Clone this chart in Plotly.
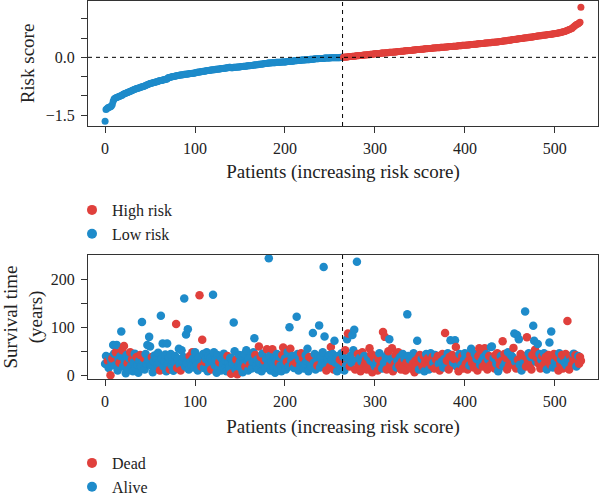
import plotly.graph_objects as go

# ---------------- data ----------------
risk_score = [
    -1.66, -1.35, -1.33, -1.31, -1.30, -1.29, -1.28, -1.26, -1.22, -1.14,
    -1.08, -1.06, -1.05, -1.04, -1.03, -1.02, -1.01, -1.00, -0.99, -0.98,
    -0.96, -0.95, -0.94, -0.93, -0.92, -0.91, -0.90, -0.89, -0.88, -0.87,
    -0.86, -0.85, -0.84, -0.83, -0.82, -0.81, -0.80, -0.80, -0.79, -0.78,
    -0.77, -0.76, -0.76, -0.75, -0.74, -0.73, -0.72, -0.71, -0.70, -0.69,
    -0.68, -0.67, -0.67, -0.66, -0.65, -0.65, -0.64, -0.63, -0.63, -0.62,
    -0.61, -0.61, -0.60, -0.60, -0.59, -0.58, -0.58, -0.57, -0.57, -0.56,
    -0.53, -0.52, -0.52, -0.51, -0.51, -0.50, -0.50, -0.49, -0.49, -0.48,
    -0.48, -0.47, -0.47, -0.46, -0.46, -0.46, -0.45, -0.45, -0.44, -0.44,
    -0.44, -0.43, -0.43, -0.43, -0.42, -0.42, -0.42, -0.41, -0.41, -0.41,
    -0.40, -0.40, -0.39, -0.39, -0.38, -0.38, -0.38, -0.37, -0.37, -0.36,
    -0.36, -0.36, -0.35, -0.35, -0.34, -0.34, -0.34, -0.33, -0.33, -0.33,
    -0.32, -0.32, -0.32, -0.31, -0.31, -0.31, -0.30, -0.30, -0.30, -0.29,
    -0.29, -0.29, -0.28, -0.28, -0.28, -0.27, -0.27, -0.27, -0.26, -0.26,
    -0.27, -0.27, -0.27, -0.26, -0.26, -0.26, -0.26, -0.25, -0.25, -0.25,
    -0.25, -0.24, -0.24, -0.24, -0.23, -0.23, -0.23, -0.23, -0.22, -0.22,
    -0.22, -0.22, -0.21, -0.21, -0.21, -0.20, -0.20, -0.20, -0.19, -0.19,
    -0.19, -0.18, -0.18, -0.18, -0.17, -0.17, -0.17, -0.16, -0.16, -0.16,
    -0.16, -0.15, -0.15, -0.15, -0.15, -0.14, -0.14, -0.14, -0.14, -0.14,
    -0.13, -0.13, -0.13, -0.13, -0.13, -0.13, -0.12, -0.12, -0.12, -0.12,
    -0.12, -0.12, -0.11, -0.11, -0.11, -0.11, -0.10, -0.10, -0.10, -0.10,
    -0.09, -0.09, -0.09, -0.09, -0.08, -0.08, -0.08, -0.08, -0.07, -0.07,
    -0.07, -0.07, -0.07, -0.06, -0.06, -0.06, -0.06, -0.06, -0.05, -0.05,
    -0.05, -0.05, -0.05, -0.04, -0.04, -0.04, -0.04, -0.04, -0.03, -0.03,
    -0.03, -0.03, -0.03, -0.03, -0.02, -0.02, -0.02, -0.02, -0.02, -0.02,
    -0.02, -0.01, -0.01, -0.01, -0.01, -0.01, -0.01, -0.01, -0.01, -0.01,
    -0.01, -0.01, -0.00, -0.00, -0.00, 0.00, 0.00, 0.01, 0.01, 0.01,
    0.01, 0.02, 0.02, 0.02, 0.02, 0.03, 0.03, 0.03, 0.03, 0.04,
    0.04, 0.04, 0.04, 0.05, 0.05, 0.05, 0.05, 0.06, 0.06, 0.06,
    0.06, 0.07, 0.07, 0.07, 0.07, 0.08, 0.08, 0.08, 0.08, 0.09,
    0.09, 0.09, 0.09, 0.10, 0.10, 0.10, 0.10, 0.11, 0.11, 0.11,
    0.11, 0.11, 0.12, 0.12, 0.12, 0.12, 0.13, 0.13, 0.13, 0.13,
    0.13, 0.14, 0.14, 0.14, 0.14, 0.15, 0.15, 0.15, 0.15, 0.16,
    0.16, 0.16, 0.16, 0.17, 0.17, 0.17, 0.17, 0.18, 0.18, 0.18,
    0.18, 0.18, 0.19, 0.19, 0.19, 0.19, 0.20, 0.20, 0.20, 0.20,
    0.20, 0.21, 0.21, 0.21, 0.21, 0.22, 0.22, 0.22, 0.22, 0.23,
    0.23, 0.23, 0.23, 0.23, 0.24, 0.24, 0.24, 0.24, 0.25, 0.25,
    0.25, 0.25, 0.25, 0.26, 0.26, 0.26, 0.26, 0.26, 0.27, 0.27,
    0.27, 0.27, 0.28, 0.28, 0.28, 0.28, 0.28, 0.29, 0.29, 0.29,
    0.29, 0.29, 0.30, 0.30, 0.30, 0.30, 0.30, 0.31, 0.31, 0.31,
    0.31, 0.31, 0.32, 0.32, 0.32, 0.32, 0.33, 0.33, 0.33, 0.33,
    0.34, 0.34, 0.34, 0.34, 0.35, 0.35, 0.35, 0.35, 0.36, 0.36,
    0.36, 0.36, 0.37, 0.37, 0.37, 0.37, 0.38, 0.38, 0.38, 0.38,
    0.39, 0.39, 0.39, 0.39, 0.40, 0.40, 0.40, 0.40, 0.41, 0.41,
    0.41, 0.41, 0.42, 0.42, 0.42, 0.43, 0.43, 0.43, 0.44, 0.44,
    0.44, 0.45, 0.45, 0.46, 0.46, 0.46, 0.47, 0.47, 0.47, 0.48,
    0.48, 0.48, 0.49, 0.49, 0.49, 0.50, 0.50, 0.50, 0.51, 0.51,
    0.51, 0.52, 0.52, 0.52, 0.53, 0.53, 0.53, 0.54, 0.54, 0.54,
    0.55, 0.55, 0.55, 0.56, 0.56, 0.56, 0.57, 0.57, 0.57, 0.58,
    0.58, 0.58, 0.59, 0.59, 0.59, 0.60, 0.60, 0.60, 0.61, 0.61,
    0.61, 0.62, 0.62, 0.63, 0.63, 0.64, 0.64, 0.65, 0.65, 0.66,
    0.66, 0.67, 0.68, 0.69, 0.70, 0.71, 0.72, 0.73, 0.74, 0.75,
    0.77, 0.79, 0.81, 0.83, 0.85, 0.86, 0.87, 0.89, 0.91, 1.30,
]

survival_time = [
    24, 40, 22, 30, 15, 38, 0, 28, 35, 63,
    45, 20, 48, 63, 10, 33, 26, 40, 91, 52,
    18, 61, 30, 4, 42, 25, 12, 35, 48, 20,
    33, 8, 27, 45, 15, 38, 22, 5, 30, 42,
    18, 111, 28, 36, 12, 44, 24, 63, 32, 80,
    60, 20, 38, 6, 29, 41, 14, 33, 22, 47,
    26, 10, 124, 35, 66, 18, 30, 43, 8, 66,
    25, 37, 12, 44, 20, 30, 9, 28, 40, 107,
    15, 34, 55, 22, 10, 52, 30, 38, 160, 18,
    85, 25, 96, 12, 40, 28, 20, 48, 35, 16,
    48, 30, 22, 10, 37, 167, 26, 18, 74, 44,
    15, 28, 34, 48, 8, 40, 23, 36, 12, 30,
    168, 48, 20, 32, 5, 42, 18, 27, 38, 10,
    34, 22, 45, 14, 30, 8, 40, 26, 16, 36,
    3, 35, 24, 110, 50, 12, 32, 2, 20, 42,
    28, 15, 38, 6, 25, 44, 18, 52, 30, 10,
    35, 22, 40, 14, 28, 48, 77, 42, 20, 32,
    12, 60, 26, 38, 8, 45, 20, 30, 15, 34,
    54, 22, 244, 40, 10, 28, 54, 18, 36, 5,
    30, 44, 14, 26, 38, 20, 8, 42, 58, 24,
    35, 12, 28, 48, 18, 100, 55, 30, 40, 22,
    15, 38, 26, 122, 44, 10, 32, 20, 46, 28,
    36, 14, 24, 42, 30, 55, 8, 38, 22, 18,
    34, 88, 26, 44, 12, 30, 20, 40, 104, 16,
    38, 25, 48, 226, 81, 22, 10, 34, 28, 42,
    18, 59, 30, 44, 12, 72, 26, 36, 8, 40,
    22, 32, 14, 46, 28, 38, 10, 52, 20, 75,
    87, 34, 18, 40, 26, 84, 52, 95, 12, 30,
    237, 44, 20, 36, 8, 28, 48, 16, 40, 24,
    32, 12, 38, 22, 56, 30, 44, 6, 26, 36,
    18, 40, 28, 10, 34, 46, 20, 30, 14, 90,
    26, 80, 38, 12, 44, 50, 75, 22, 32, 56,
    8, 36, 24, 42, 16, 30, 48, 20, 38, 12,
    28, 44, 18, 34, 10, 26, 127, 40, 22, 32,
    14, 38, 24, 46, 6, 30, 20, 72, 36, 12,
    42, 26, 34, 18, 40, 8, 28, 44, 22, 36,
    12, 30, 46, 20, 38, 26, 14, 42, 32, 18,
    40, 24, 10, 36, 28, 44, 16, 34, 88, 22,
    30, 46, 12, 38, 73, 20, 42, 26, 34, 73,
    59, 18, 36, 8, 44, 28, 22, 40, 14, 32,
    46, 24, 38, 12, 30, 20, 42, 55, 26, 36,
    16, 44, 28, 34, 10, 40, 56, 22, 46, 30,
    18, 38, 56, 26, 44, 12, 32, 40, 20, 59,
    60, 28, 36, 14, 42, 24, 46, 8, 34, 22,
    40, 30, 71, 18, 44, 26, 36, 12, 48, 20,
    34, 42, 24, 38, 57, 87, 28, 14, 84, 32,
    75, 22, 44, 10, 36, 26, 40, 133, 18, 79,
    30, 46, 20, 38, 12, 42, 103, 72, 53, 28,
    36, 65, 24, 44, 14, 32, 40, 20, 46, 26,
    38, 12, 30, 42, 68, 22, 91, 34, 16, 44,
    28, 40, 18, 36, 10, 46, 24, 32, 42, 14,
    38, 26, 44, 20, 113, 34, 12, 40, 30, 22,
    36, 45, 28, 42, 18, 34, 40, 24, 38, 30,
]

# D = dead, A = alive (one character per patient, rows of 10)
status_rows = [
    "AAADAADADA", "AADAAADAAD", "ADAAADAADA", "DAAAADAAAD", "AAADAAAAAA",
    "AADAAAAAAA", "ADAAAAAAAA", "AADAAAAAAD", "DAAADAAAAA", "AAAADAADAA",
    "AAAAADADDA", "ADAAAAAADA", "AAAAAAADAA", "AAAAAADAAA", "DAAAAADDAA",
    "AAAAAADAAA", "ADAAAAADAA", "ADADAAADAA", "DAAAAADAAA", "AAADAAADDA",
    "AADAAADAAD", "AADAAAAADA", "DAAAAAADAA", "DAAAAADAAA", "AAAAAADAAA",
    "DDAADAAAAA", "ADAADAADAA", "DADAAAAADA", "ADDADADDAD", "DDADDADDAD",
    "ADADDADDAD", "ADADADADAD", "DADDAADDAD", "DADADDAADA", "DADADDDADA",
    "DDADDADADD", "ADADDADADD", "DADDADAADA", "DADDADDADA", "DADDADADDA",
    "ADADDADADD", "DADADDDADA", "DADDADADDA", "ADADDADADD", "ADDADADDAD",
    "DADADAADAD", "AADADADADD", "DADADDAADA", "DADADADDAD", "DADDADADAD",
    "ADADDADADD", "DADADADDAD", "DADDADADDD",
]

cutoff_index = 264          # patients 0..264 low risk, 265.. high risk
x_ticks = [0, 100, 200, 300, 400, 500]

# ---------------- derived ----------------
status = "".join(status_rows)
n = len(risk_score)
patients = list(range(n))
RED = "#E0403C"
BLUE = "#1E8BCA"
FONT = "Liberation Serif"

low_x = [i for i in patients if i <= cutoff_index]
high_x = [i for i in patients if i > cutoff_index]

fig = go.Figure()

fig.add_trace(go.Scatter(
    x=low_x, y=[risk_score[i] for i in low_x], mode="markers",
    marker=dict(color=BLUE, size=7), showlegend=False, xaxis="x", yaxis="y"))
fig.add_trace(go.Scatter(
    x=high_x, y=[risk_score[i] for i in high_x], mode="markers",
    marker=dict(color=RED, size=7), showlegend=False, xaxis="x", yaxis="y"))

fig.add_trace(go.Scatter(
    x=patients, y=survival_time, mode="markers",
    marker=dict(color=[RED if s == "D" else BLUE for s in status], size=8.5),
    showlegend=False, xaxis="x2", yaxis="y2"))

# legend entries
for name, col, leg in [("High risk", RED, "legend"), ("Low risk", BLUE, "legend"),
                       ("Dead", RED, "legend2"), ("Alive", BLUE, "legend2")]:
    fig.add_trace(go.Scatter(x=[None], y=[None], mode="markers", name=name,
                             marker=dict(color=col, size=10), legend=leg,
                             xaxis="x", yaxis="y"))

axis_common = dict(showline=True, linecolor="#333333", linewidth=1.2, mirror=True,
                   ticks="outside", ticklen=6, tickcolor="#333333", tickwidth=1.2,
                   showgrid=False, zeroline=False, automargin=False,
                   tickfont=dict(family=FONT, size=16, color="#222222"))

xd = [88 / 600, 598 / 600]
fig.update_layout(
    width=600, height=497,
    margin=dict(l=0, r=0, t=0, b=0, autoexpand=False),
    paper_bgcolor="white", plot_bgcolor="white",
    font=dict(family=FONT, size=16, color="#222222"),
    xaxis=dict(domain=xd, anchor="y", range=[-19, 548], tickvals=x_ticks,
               ticklabelstandoff=2,
               title=dict(text="Patients (increasing risk score)", standoff=8), **axis_common),
    yaxis=dict(domain=[1 - 126 / 497, 1 - 1 / 497], anchor="x", range=[-1.78, 1.46],
               tickvals=[-1.5, -1.0, -0.5, 0.0, 0.5, 1.0],
               ticktext=["−1.5", "", "", "0.0", "", ""], ticklabelstandoff=3,
               title=dict(text="Risk score", standoff=6), **axis_common),
    xaxis2=dict(domain=xd, anchor="y2", range=[-19, 548], tickvals=x_ticks,
                ticklabelstandoff=2,
                title=dict(text="Patients (increasing risk score)", standoff=10), **axis_common),
    yaxis2=dict(domain=[1 - 379 / 497, 1 - 255 / 497], anchor="x2", range=[-8, 251],
                tickvals=[0, 50, 100, 150, 200], ticktext=["0", "", "100", "", "200"],
                ticklabelstandoff=3,
                title=dict(text="Survival time<br>(years)", standoff=6), **axis_common),
    legend=dict(x=72 / 600, y=1 - 193 / 497, xanchor="left", yanchor="top",
                bgcolor="rgba(0,0,0,0)", font=dict(family=FONT, size=16),
                itemsizing="trace", tracegroupgap=0),
    legend2=dict(x=72 / 600, y=1 - 446 / 497, xanchor="left", yanchor="top",
                 bgcolor="rgba(0,0,0,0)", font=dict(family=FONT, size=16),
                 itemsizing="trace", tracegroupgap=0),
    shapes=[
        dict(type="line", xref="x domain", yref="y", x0=0, x1=1, y0=0, y1=0,
             line=dict(color="black", width=1, dash="4px,4px")),
        dict(type="line", xref="x", yref="y domain", x0=cutoff_index, x1=cutoff_index,
             y0=0, y1=1, line=dict(color="black", width=1, dash="4px,4px")),
        dict(type="line", xref="x2", yref="y2 domain", x0=cutoff_index, x1=cutoff_index,
             y0=0, y1=1, line=dict(color="black", width=1, dash="4px,4px")),
    ],
)

fig.write_html("out.html")
